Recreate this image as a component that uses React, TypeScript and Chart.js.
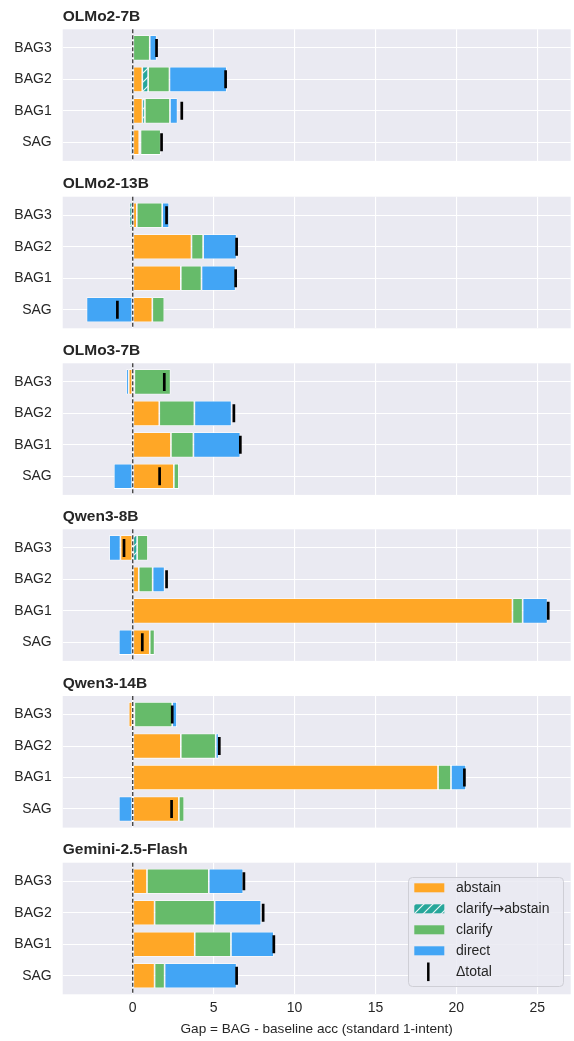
import React, { useEffect, useRef } from 'react';
import { Chart, registerables } from 'chart.js';

Chart.register(...registerables);

// ---------------- data ----------------
const MODELS = ['OLMo2-7B', 'OLMo2-13B', 'OLMo3-7B', 'Qwen3-8B', 'Qwen3-14B', 'Gemini-2.5-Flash'];
// bottom -> top (index 0 drawn at the bottom)
const CATEGORIES = ['SAG', 'BAG1', 'BAG2', 'BAG3'];
const X_TICK_STEP = 5;
const X_MIN = -4.33;
const X_MAX = 27.07;
const X_LABEL = 'Gap = BAG - baseline acc (standard 1-intent)';

// per model: [SAG, BAG1, BAG2, BAG3]
const ABSTAIN = [
  [0.4, 0.6, 0.59, 0.0],
  [1.21, 2.97, 3.63, 0.25],
  [2.54, 2.36, 1.64, -0.25],
  [1.05, 23.47, 0.37, -0.76],
  [2.85, 18.87, 2.97, -0.25],
  [1.35, 3.83, 1.35, 0.88],
];
const CLARIFY_TO_ABSTAIN = [
  [0.08, 0.15, 0.36, 0.0],
  [0.0, 0.0, 0.0, -0.2],
  [0.0, 0.0, 0.0, 0.1],
  [0.0, 0.0, 0.0, 0.27],
  [0.0, 0.0, 0.0, 0.1],
  [0.0, 0.0, 0.0, 0.0],
];
const CLARIFY = [
  [1.25, 1.55, 1.32, 1.05],
  [0.74, 1.28, 0.72, 1.57],
  [0.31, 1.39, 2.17, 2.24],
  [0.3, 0.63, 0.86, 0.67],
  [0.33, 0.8, 2.16, 2.34],
  [0.62, 2.24, 3.71, 3.82],
];
const DIRECT = [
  [-0.15, 0.47, 3.54, 0.43],
  [-2.86, 2.11, 2.07, 0.43],
  [-1.17, 2.9, 2.3, -0.16],
  [-0.86, 1.54, 0.74, -0.7],
  [-0.86, 0.93, 0.18, 0.29],
  [4.45, 2.65, 2.88, 2.13],
];
const TOTAL = [
  [1.78, 3.03, 5.74, 1.47],
  [-0.95, 6.36, 6.42, 2.09],
  [1.66, 6.65, 6.25, 1.95],
  [0.59, 25.68, 2.09, -0.54],
  [2.4, 20.5, 5.35, 2.44],
  [6.42, 8.72, 8.06, 6.87],
];

const SERIES_NAMES = ['abstain', 'clarify→abstain', 'clarify', 'direct'];
const SERIES_VALUES = [ABSTAIN, CLARIFY_TO_ABSTAIN, CLARIFY, DIRECT];
const SERIES_COLORS = ['#FFA726', '#26A69A', '#66BB6A', '#42A5F5'];
const SERIES_HATCHED = [false, true, false, false];
const TOTAL_NAME = 'Δtotal';

// ---------------- layout / style ----------------
const PAGE_W = 574;
const PAGE_H = 1041;
const PLOT_TOP = [29.3, 196.7, 363.3, 529.3, 696, 862.7];
const PLOT_H = 131.6;
const PLOT_LEFT = 62.7;
const PLOT_RIGHT = 570.7;
const FONT = '"Liberation Sans", Arial, Helvetica, sans-serif';
const ARROW_FONT = '"DejaVu Sans", sans-serif';
const TEXT = '#262626';
const AX_BG = '#EAEAF2';

function makeHatch(color: string) {
  const c = document.createElement('canvas');
  c.width = 9;
  c.height = 9;
  const g = c.getContext('2d')!;
  g.fillStyle = color;
  g.fillRect(0, 0, 9, 9);
  g.strokeStyle = 'rgba(255,255,255,0.9)';
  g.lineWidth = 1.2;
  g.beginPath();
  g.moveTo(-1, 10);
  g.lineTo(10, -1);
  g.moveTo(-5.5, 5.5);
  g.lineTo(5.5, -5.5);
  g.moveTo(3.5, 14.5);
  g.lineTo(14.5, 3.5);
  g.stroke();
  return g.createPattern(c, 'repeat')!;
}

// draw text, using a font with a full-size arrow glyph for "→"
function drawMixed(ctx: CanvasRenderingContext2D, text: string, x: number, y: number, size: number) {
  const parts = text.split(/(→)/);
  let cx = x;
  for (const p of parts) {
    if (!p) continue;
    ctx.font = p === '→' ? `${size}px ${ARROW_FONT}` : `${size}px ${FONT}`;
    ctx.fillText(p, cx, y);
    cx += ctx.measureText(p).width;
  }
}

function Panel({ idx }: { idx: number }) {
  const ref = useRef<HTMLCanvasElement | null>(null);
  const last = idx === MODELS.length - 1;
  const canvasTop = Math.floor(PLOT_TOP[idx] - 29);
  const nextTop = last ? PAGE_H : Math.floor(PLOT_TOP[idx + 1] - 29);
  const canvasH = nextTop - canvasTop;
  const padTop = PLOT_TOP[idx] - canvasTop;
  const xAxisH = last ? canvasH - padTop - PLOT_H : 0;
  const padBottom = canvasH - padTop - PLOT_H - xAxisH;

  useEffect(() => {
    const canvas = ref.current!;
    const hatch = makeHatch(SERIES_COLORS[1]);
    const fills = SERIES_COLORS.map((c, i) => (SERIES_HATCHED[i] ? hatch : c));

    const datasets: any[] = SERIES_VALUES.map((vals, s) => ({
      type: 'bar',
      label: SERIES_NAMES[s],
      data: vals[idx].map((v, c) => ({ x: v === 0 ? null : v, y: c })),
      backgroundColor: fills[s],
      borderColor: '#ffffff',
      borderWidth: 0.8,
      borderSkipped: false,
      stack: 'a',
      order: 1,
      barPercentage: 1,
      categoryPercentage: 0.8,
    }));
    datasets.push({
      type: 'scatter',
      label: TOTAL_NAME,
      data: TOTAL[idx].map((v, c) => ({ x: v, y: c })),
      pointStyle: 'line',
      rotation: 90,
      radius: 9,
      borderWidth: 2.7,
      borderColor: '#000000',
      backgroundColor: '#000000',
      showLine: false,
      order: 0,
    });

    const decor = {
      id: 'decor',
      beforeDraw(chart: any) {
        const { ctx, chartArea: a } = chart;
        ctx.save();
        ctx.fillStyle = AX_BG;
        ctx.fillRect(a.left, a.top, a.right - a.left, a.bottom - a.top);
        ctx.restore();
      },
      afterDatasetsDraw(chart: any) {
        const { ctx, chartArea: a } = chart;
        const x0 = chart.scales.x.getPixelForValue(0);
        ctx.save();
        ctx.strokeStyle = '#2b2b2b';
        ctx.lineWidth = 1.2;
        ctx.setLineDash([4, 2]);
        ctx.beginPath();
        ctx.moveTo(x0, a.top);
        ctx.lineTo(x0, a.bottom);
        ctx.stroke();
        ctx.restore();
      },
      afterDraw(chart: any) {
        const { ctx, chartArea: a } = chart;
        ctx.save();
        ctx.fillStyle = TEXT;
        ctx.font = `bold 15.5px ${FONT}`;
        ctx.textAlign = 'left';
        ctx.textBaseline = 'alphabetic';
        ctx.fillText(MODELS[idx], a.left, a.top - 8.5);
        if (last) {
          const w = 155;
          const h = 109;
          const bx = a.right - 7.7 - w;
          const by = a.bottom - 8.3 - h;
          ctx.beginPath();
          (ctx as any).roundRect(bx + 0.5, by + 0.5, w, h, 4);
          ctx.fillStyle = 'rgba(234,234,242,0.85)';
          ctx.fill();
          ctx.strokeStyle = '#cfcfd6';
          ctx.lineWidth = 1;
          ctx.stroke();
          ctx.textBaseline = 'middle';
          const names = [...SERIES_NAMES, TOTAL_NAME];
          names.forEach((name, i) => {
            const cy = by + 10.8 + i * 21;
            if (i < SERIES_NAMES.length) {
              ctx.fillStyle = fills[i];
              ctx.fillRect(bx + 6.3, cy - 4.5, 30, 9);
            } else {
              ctx.strokeStyle = '#000000';
              ctx.lineWidth = 2.5;
              ctx.setLineDash([]);
              ctx.beginPath();
              ctx.moveTo(bx + 20.3, cy - 9.3);
              ctx.lineTo(bx + 20.3, cy + 9.3);
              ctx.stroke();
            }
            ctx.fillStyle = TEXT;
            drawMixed(ctx, name, bx + 48, cy + 0.5, 14);
          });
        }
        ctx.restore();
      },
    };

    const chart = new Chart(canvas, {
      type: 'bar',
      data: { datasets },
      plugins: [decor],
      options: {
        indexAxis: 'y',
        responsive: false,
        animation: false,
        devicePixelRatio: 1,
        events: [],
        layout: {
          autoPadding: false,
          padding: { top: padTop, bottom: padBottom, left: 0, right: PAGE_W - PLOT_RIGHT },
        },
        plugins: {
          legend: { display: false },
          title: { display: false },
          tooltip: { enabled: false },
        },
        scales: {
          x: {
            type: 'linear',
            position: 'bottom',
            stacked: true,
            offset: false,
            min: X_MIN,
            max: X_MAX,
            afterFit: (s: any) => {
              s.height = xAxisH;
              s.paddingLeft = 0;
              s.paddingRight = 0;
              s.paddingTop = 0;
              s.paddingBottom = 0;
            },
            border: { display: false },
            grid: { color: '#ffffff', lineWidth: 1.1, drawTicks: false, offset: false },
            ticks: {
              display: last,
              stepSize: X_TICK_STEP,
              includeBounds: false,
              padding: 5,
              color: TEXT,
              font: { family: FONT, size: 14 },
              maxRotation: 0,
            },
            title: {
              display: last,
              text: X_LABEL,
              color: TEXT,
              font: { family: FONT, size: 13.6 },
              padding: { top: 0, bottom: 4 },
            },
          },
          y: {
            type: 'linear',
            position: 'left',
            offset: false,
            min: -0.59,
            max: CATEGORIES.length - 1 + 0.59,
            afterFit: (s: any) => {
              s.width = PLOT_LEFT;
              s.paddingLeft = 0;
              s.paddingRight = 0;
              s.paddingTop = 0;
              s.paddingBottom = 0;
            },
            border: { display: false },
            grid: { color: '#ffffff', lineWidth: 1.1, drawTicks: false, offset: false },
            ticks: {
              stepSize: 1,
              includeBounds: false,
              padding: 11,
              color: TEXT,
              font: { family: FONT, size: 14 },
              callback: (v: any) => CATEGORIES[v as number] ?? '',
            },
          },
        },
      } as any,
    });
    return () => chart.destroy();
  }, [idx]);

  return (
    <canvas
      ref={ref}
      width={PAGE_W}
      height={canvasH}
      style={{ position: 'absolute', left: 0, top: canvasTop, width: PAGE_W, height: canvasH, display: 'block' }}
    />
  );
}

export default function App() {
  return (
    <div style={{ position: 'absolute', left: 0, top: 0, width: PAGE_W, height: PAGE_H, background: '#ffffff', overflow: 'hidden' }}>
      {MODELS.map((m, i) => (
        <Panel key={m} idx={i} />
      ))}
    </div>
  );
}
